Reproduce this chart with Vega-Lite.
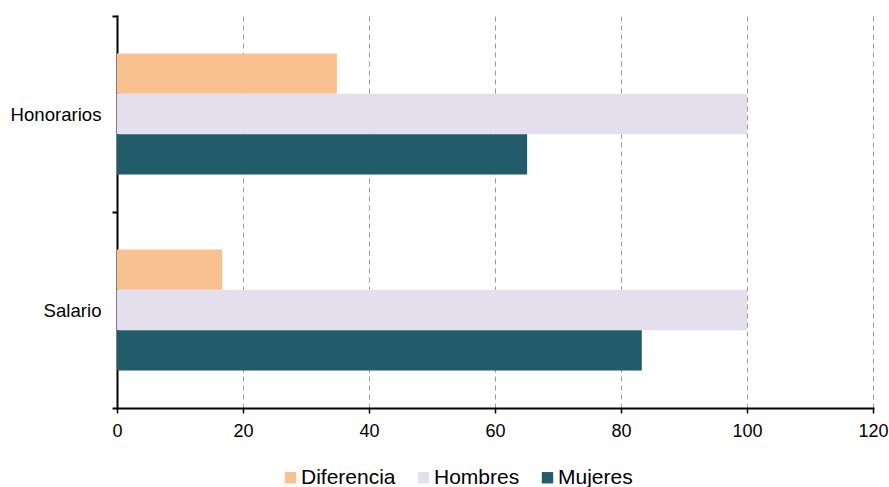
{
  "$schema": "https://vega.github.io/schema/vega-lite/v6.json",
  "width": 756,
  "height": 392,
  "autosize": {"type": "none"},
  "padding": {"left": 117, "top": 16, "right": 16, "bottom": 79},
  "background": "white",
  "data": {
    "values": [
      {"tipo": "Honorarios", "serie": "Diferencia", "valor": 34.9},
      {"tipo": "Honorarios", "serie": "Hombres", "valor": 100},
      {"tipo": "Honorarios", "serie": "Mujeres", "valor": 65.1},
      {"tipo": "Salario", "serie": "Diferencia", "valor": 16.7},
      {"tipo": "Salario", "serie": "Hombres", "valor": 100},
      {"tipo": "Salario", "serie": "Mujeres", "valor": 83.3}
    ]
  },
  "mark": {"type": "bar", "cornerRadius": 0},
  "encoding": {
    "y": {
      "field": "tipo",
      "type": "nominal",
      "sort": ["Honorarios", "Salario"],
      "scale": {"paddingInner": 0, "paddingOuter": 0},
      "axis": {
        "title": null,
        "tickBand": "extent",
        "domainColor": "black",
        "domainWidth": 2,
        "tickColor": "black",
        "tickWidth": 2,
        "tickSize": 5,
        "labelFont": "Liberation Sans",
        "labelFontSize": 18.6,
        "labelColor": "black",
        "labelPadding": 11,
        "grid": false
      }
    },
    "yOffset": {
      "field": "serie",
      "type": "nominal",
      "sort": ["Diferencia", "Hombres", "Mujeres"],
      "scale": {"paddingInner": 0, "paddingOuter": 0.93}
    },
    "x": {
      "field": "valor",
      "type": "quantitative",
      "scale": {"domain": [0, 120], "nice": false},
      "axis": {
        "title": null,
        "values": [0, 20, 40, 60, 80, 100, 120],
        "domainColor": "black",
        "domainWidth": 2,
        "tickColor": "black",
        "tickWidth": 1.5,
        "tickSize": 5,
        "labelFont": "Liberation Sans",
        "labelFontSize": 18,
        "labelColor": "black",
        "labelPadding": 9,
        "labelFlush": false,
        "grid": true,
        "gridColor": "#9a9a9a",
        "gridDash": [5, 4],
        "gridWidth": 1
      }
    },
    "color": {
      "field": "serie",
      "type": "nominal",
      "sort": ["Diferencia", "Hombres", "Mujeres"],
      "scale": {
        "domain": ["Diferencia", "Hombres", "Mujeres"],
        "range": ["#F9C190", "#E4DFEC", "#225B69"]
      },
      "legend": {
        "title": null,
        "orient": "none",
        "direction": "horizontal",
        "legendX": 163,
        "legendY": 451,
        "symbolType": "square",
        "symbolSize": 130,
        "symbolStrokeWidth": 0,
        "labelFont": "Liberation Sans",
        "labelFontSize": 21,
        "labelColor": "black",
        "labelOffset": 0,
        "columnPadding": 17,
        "padding": 0
      }
    }
  },
  "config": {
    "view": {"stroke": null},
    "axis": {"domainCap": "square"}
  }
}
